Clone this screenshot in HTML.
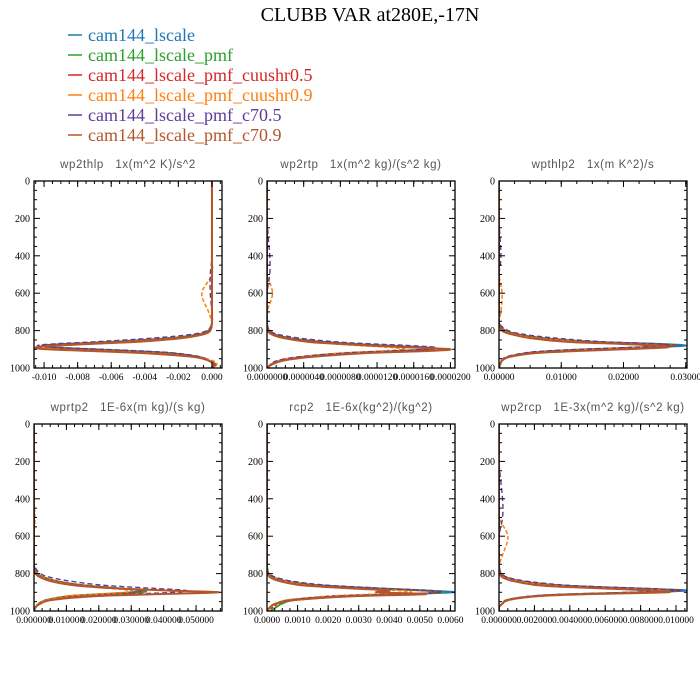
<!DOCTYPE html>
<html><head><meta charset="utf-8"><style>
html,body{margin:0;padding:0;background:#fff}
svg{display:block}
.pt{white-space:pre}
</style></head><body>
<svg id="c" width="700" height="700" viewBox="0 0 700 700" xmlns="http://www.w3.org/2000/svg">
<text x="370" y="21" font-family="Liberation Serif, serif" font-size="20" text-anchor="middle">CLUBB VAR at280E,-17N</text>
<g id="legend"></g>
<g id="panels"></g>
</svg>
<script>
const seriesNames=["cam144_lscale","cam144_lscale_pmf","cam144_lscale_pmf_cuushr0.5","cam144_lscale_pmf_cuushr0.9","cam144_lscale_pmf_c70.5","cam144_lscale_pmf_c70.9"];
const colors=["#1f77b4","#2ca02c","#d62728","#ff7f0e","#5e3c99","#b5562a"];
const dashes=["","","3,2","4,2","5,3",""];
const widths=[1.8,1.8,1.5,1.5,1.4,2];
const pressure=[0,200,400,500,600,700,760,800,820,840,860,870,880,890,900,910,920,940,960,980,1000];

const titles=["wp2thlp   1x(m^2 K)/s^2","wp2rtp   1x(m^2 kg)/(s^2 kg)","wpthlp2   1x(m K^2)/s","wprtp2   1E-6x(m kg)/(s kg)","rcp2   1E-6x(kg^2)/(kg^2)","wp2rcp   1E-3x(m^2 kg)/(s^2 kg)"];
const domains=[[-0.0106,0.0006],[0,20.5],[0,30.2],[0,58],[0,6.15],[0,10.62]];
const tickVals=[[-0.010,-0.008,-0.006,-0.004,-0.002,0],[0,4,8,12,16,20],[0,10,20,30],[0,10,20,30,40,50],[0,1,2,3,4,5,6],[0,2,4,6,8,10]];
const tickLabels=[["-0.010","-0.008","-0.006","-0.004","-0.002","0.000"],["0.0000000","0.0000040","0.0000080","0.0000120","0.0000160","0.0000200"],["0.00000","0.01000","0.02000","0.03000"],["0.000000","0.010000","0.020000","0.030000","0.040000","0.050000"],["0.0000","0.0010","0.0020","0.0030","0.0040","0.0050","0.0060"],["0.000000","0.002000","0.004000","0.006000","0.008000","0.010000"]];
const minorStep=[0.0005,1,2.5,2.5,0.25,0.5];

const p1=[
[0,0,0,0,0,0,0,-0.0002,-0.0008,-0.0025,-0.006,-0.0085,-0.0101,-0.0095,-0.007,-0.0045,-0.0025,-0.0008,-0.0002,0.0001,0],
[0,0,0,0,0,0,0,-0.0002,-0.0008,-0.0024,-0.0058,-0.0083,-0.0099,-0.0096,-0.0072,-0.0047,-0.0026,-0.0008,-0.0002,0.0001,0],
[0,0,0,0,0,0,0,-0.0002,-0.0008,-0.0024,-0.0058,-0.0084,-0.01,-0.0095,-0.0071,-0.0046,-0.0025,-0.0008,-0.0002,0.0001,0],
[0,0,0,0,-0.0006,-0.0002,0,-0.0001,-0.0006,-0.002,-0.005,-0.0075,-0.0095,-0.0104,-0.009,-0.006,-0.0035,-0.001,0,0.0003,0],
[0,0,0,-0.0001,-0.0001,0,0,-0.0003,-0.0012,-0.0035,-0.007,-0.0092,-0.0104,-0.0092,-0.0065,-0.004,-0.0022,-0.0007,-0.0002,0.0001,0],
[0,0,0,0,0,0,0,-0.0001,-0.0005,-0.0018,-0.0045,-0.007,-0.0092,-0.0105,-0.0098,-0.007,-0.0042,-0.0012,-0.0002,0.0002,0]];
const p2=[
[0,0,0,0,0,0,0,0.2,0.8,2.5,6,9,13,17.5,18,14,9,4,1.5,0.5,0],
[0,0,0,0,0,0,0,0.2,0.8,2.5,6,9,13,17,17.5,14,9,4,1.8,0.6,0],
[0,0,0,0,0,0,0,0.2,0.8,2.5,6,9,13,17.2,17.8,14,9,4,1.7,0.6,0],
[0,0,0,0,0.6,0,0,0.1,0.5,1.8,4.5,7,10,13.5,15,12,8,3.5,1.2,0.4,0],
[0,0,0.3,0.3,0,0,0,0.3,1.2,3.5,7.5,11,15.5,18.5,17,13,8.5,3.5,1.2,0.4,0],
[0,0,0,0,0,0,0,0.1,0.5,1.8,4.5,7.5,11,15.5,20,17,11,5,1.8,0.5,0]];
const p3=[
[0,0,0,0,0,0,0,1,3,7,15,25,30,24,15,9,5,1.5,0.5,0.2,0],
[0,0,0,0,0,0,0,1,3,7,15,24,28,22,14,8,4.5,1.5,0.5,0.2,0],
[0,0,0,0,0,0,0,1,3,7,15,24,28.5,22.5,14,8,4.5,1.5,0.5,0.2,0],
[0,0,0,0,0.5,0.3,0,0.7,2.5,6,13,21,26,23,15,9,5,1.5,0.5,0.2,0],
[0,0,0.3,0,0,0,0,1.5,4,9,17,25,27,21,13,7,4,1.2,0.4,0.1,0],
[0,0,0,0,0,0,0,0.5,2,5,11,19,25,27,20,12,6,1.8,0.5,0.2,0]];
const p4=[
[0,0,0,0,0,0,0,1,3,7,14,20,27,33,30,20,11,4,1.5,0.5,0],
[0,0,0,0,0,0,0,1,3,7,14,20,27,34,33,22,12,4.5,1.5,0.5,0],
[0,0,0,0,0,0,0,1,3,7,14,20,27,33,32,21,12,4.5,1.5,0.5,0],
[0,0,0,0.3,0,0,0,0.8,2.5,6,12,18,24,30,28,19,10,4,1.5,0.5,0],
[0,0,0,0,0,0,0.2,2,5,11,20,28,38,47,43,30,17,6,2,0.5,0],
[0,0,0,0,0,0,0,0.5,2,5,11,17,26,40,57,38,20,6,2,0.5,0]];
const p5=[
[0,0,0,0,0,0,0,0.05,0.2,0.6,1.5,2.5,3.8,5.2,6.1,4.5,2.5,0.8,0.3,0.1,0],
[0,0,0,0,0,0,0,0.05,0.2,0.6,1.5,2.4,3.6,5,5.8,4.6,2.8,1,0.5,0.3,0.1],
[0,0,0,0,0,0,0,0.05,0.2,0.6,1.5,2.4,3.6,5,5.6,4.4,2.6,0.9,0.4,0.2,0],
[0,0,0,0,0,0,0,0.05,0.15,0.5,1.2,2,3,4.2,4.7,3.5,2,0.7,0.3,0.1,0],
[0,0,0,0,0,0,0,0.07,0.3,0.8,1.8,2.8,4,5.3,5.7,4.2,2.3,0.8,0.3,0.1,0],
[0,0,0,0,0,0,0,0.03,0.1,0.4,1,1.8,2.8,4,3.6,5.2,3,1,0.3,0.1,0]];
const p6=[
[0,0,0,0,0,0,0,0.1,0.4,1.2,3,5,8,10.6,8,4,2,0.5,0.2,0,0],
[0,0,0,0,0,0,0,0.1,0.4,1.2,3,5,8,10.2,8,4.2,2.1,0.5,0.2,0,0],
[0,0,0,0,0,0,0,0.1,0.4,1.2,3,5,8,10.3,8,4.1,2,0.5,0.2,0,0],
[0,0,0,0,0.5,0.2,0,0.1,0.3,1,2.5,4.3,7,9.3,8,4,2,0.5,0.2,0,0],
[0,0,0.2,0.2,0,0,0,0.15,0.5,1.5,3.5,5.5,8.5,10.2,7.5,3.8,1.8,0.5,0.2,0,0],
[0,0,0,0,0,0,0,0.05,0.2,0.8,2,3.5,6,8.5,9.5,5,2.3,0.6,0.2,0,0]];
const panelData=[p1,p2,p3,p4,p5,p6];

const NS="http://www.w3.org/2000/svg";
function mk(tag,attrs,parent){const e=document.createElementNS(NS,tag);for(const k in attrs)e.setAttribute(k,attrs[k]);parent.appendChild(e);return e;}

const lg=document.getElementById('legend');
seriesNames.forEach((n,i)=>{
  const y=35+i*20;
  const l=mk('line',{x1:68,x2:82,y1:y,y2:y,stroke:colors[i],'stroke-width':1.5},lg);
  
  
  const t=mk('text',{x:88,y:y+6,fill:colors[i],'font-family':'Liberation Serif, serif','font-size':18},lg);
  t.textContent=n;
  
  
});

const lefts=[34,267,499], tops=[181,424], W=188, H=187;
const pg=document.getElementById('panels');
function smoothPath(pts){
  let d='M'+pts[0][0].toFixed(2)+','+pts[0][1].toFixed(2);
  for(let i=0;i<pts.length-1;i++){
    const p0=pts[Math.max(0,i-1)],a=pts[i],b=pts[i+1],p3=pts[Math.min(pts.length-1,i+2)];
    const c1=[a[0]+(b[0]-p0[0])/6,a[1]+(b[1]-p0[1])/6],c2=[b[0]-(p3[0]-a[0])/6,b[1]-(p3[1]-a[1])/6];
    d+='C'+c1[0].toFixed(2)+','+c1[1].toFixed(2)+' '+c2[0].toFixed(2)+','+c2[1].toFixed(2)+' '+b[0].toFixed(2)+','+b[1].toFixed(2);
  }
  return d;
}
for(let k=0;k<6;k++){
  const X0=lefts[k%3],Y0=tops[Math.floor(k/3)];
  const [dmin,dmax]=domains[k];
  const xs=v=>X0+(v-dmin)/(dmax-dmin)*W;
  const ys=p=>Y0+p/1000*H;
  const g=mk('g',{},pg);
  
  
  const tt=mk('text',{x:X0+W/2,y:Y0-13,'text-anchor':'middle','font-family':'Liberation Sans, sans-serif','font-size':11.5,fill:'#555','letter-spacing':'0.6','class':'pt'},g);
  tt.textContent=titles[k];
  
  
  mk('defs',{},g).innerHTML='<clipPath id="cl'+k+'"><rect x="'+X0+'" y="'+Y0+'" width="'+W+'" height="'+H+'"/></clipPath>';
  const curves=mk('g',{'clip-path':'url(#cl'+k+')'},g);
  
  
  panelData[k].forEach((vals,i)=>{
    const pts=vals.map((v,j)=>[xs(v),ys(pressure[j])]);
    const path=mk('path',{d:smoothPath(pts),fill:'none',stroke:colors[i],'stroke-width':widths[i],'stroke-dasharray':dashes[i]},curves);
    
    
  });
  const ax=mk('g',{stroke:'#000','stroke-width':1},g);
  
  
  mk('rect',{x:X0,y:Y0,width:W,height:H,fill:'none','stroke-width':1.3},ax);
  for(let p=0;p<=1000;p+=50){
    const L=p%200===0?6:3,y=ys(p);
    mk('line',{x1:X0,x2:X0+L,y1:y,y2:y},ax);
    mk('line',{x1:X0+W,x2:X0+W-L,y1:y,y2:y},ax);
    if(p%200===0){
      const t=mk('text',{x:X0-4,y:y+3.5,'text-anchor':'end','font-family':'Liberation Serif, serif','font-size':10,stroke:'none',fill:'#000'},g);
      t.textContent=String(p);
      
      
    }
  }
  const ms=minorStep[k];
  for(let v=Math.ceil(dmin/ms)*ms;v<=dmax+1e-12;v+=ms){
    const x=xs(v);
    mk('line',{x1:x,x2:x,y1:Y0+H,y2:Y0+H-3},ax);
    mk('line',{x1:x,x2:x,y1:Y0,y2:Y0+3},ax);
  }
  tickVals[k].forEach((v,i)=>{
    const x=xs(v);
    mk('line',{x1:x,x2:x,y1:Y0+H,y2:Y0+H-6},ax);
    mk('line',{x1:x,x2:x,y1:Y0,y2:Y0+6},ax);
    const t=mk('text',{x:x,y:Y0+H+12,'text-anchor':'middle','font-family':'Liberation Serif, serif','font-size':9.5,fill:'#000'},g);
    t.textContent=tickLabels[k][i];
    
    
  });
}
</script>
</body></html>
